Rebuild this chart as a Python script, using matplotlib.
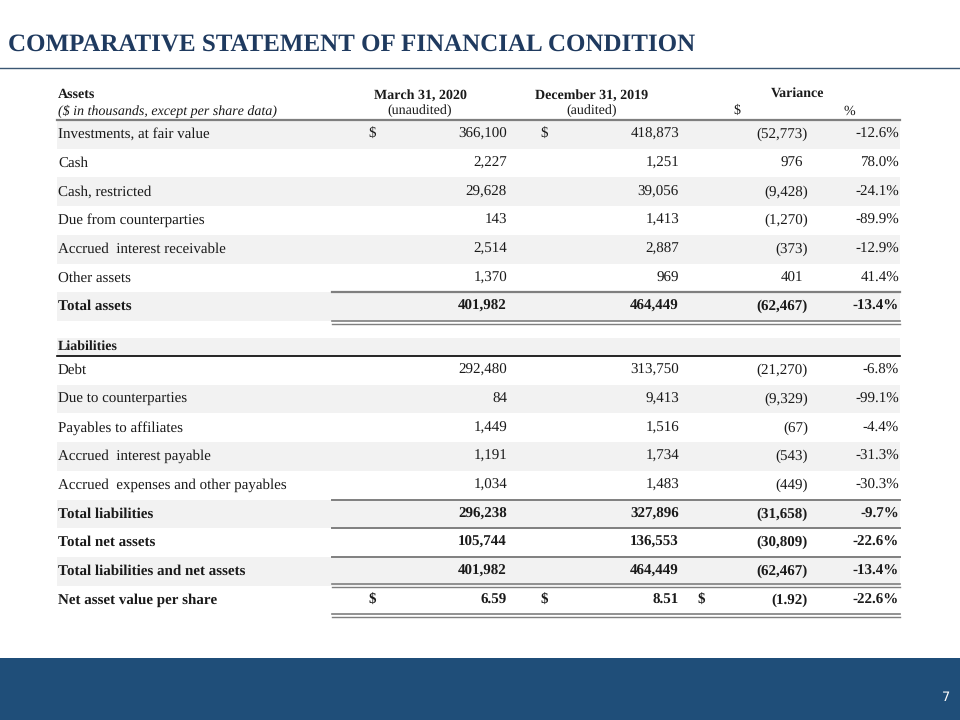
import matplotlib
matplotlib.use("Agg")
import matplotlib.pyplot as plt
from matplotlib.patches import Rectangle

plt.rcParams["text.hinting"] = "no_hinting"
plt.rcParams["text.hinting_factor"] = 1

# ---------------- data ----------------
title = "COMPARATIVE STATEMENT OF FINANCIAL CONDITION"
col_headers = ["March 31, 2020", "December 31, 2019", "Variance"]
col_subheaders = ["(unaudited)", "(audited)", "$", "%"]
units_note = "($ in thousands, except per share data)"

asset_labels = ["Investments, at fair value", "Cash", "Cash, restricted",
                "Due from counterparties", "Accrued  interest receivable",
                "Other assets", "Total assets"]
asset_mar = [366100, 2227, 29628, 143, 2514, 1370, 401982]
asset_dec = [418873, 1251, 39056, 1413, 2887, 969, 464449]
asset_var = [-52773, 976, -9428, -1270, -373, 401, -62467]
asset_pct = [-12.6, 78.0, -24.1, -89.9, -12.9, 41.4, -13.4]

liab_labels = ["Debt", "Due to counterparties", "Payables to affiliates",
               "Accrued  interest payable", "Accrued  expenses and other payables",
               "Total liabilities", "Total net assets",
               "Total liabilities and net assets", "Net asset value per share"]
liab_mar = [292480, 84, 1449, 1191, 1034, 296238, 105744, 401982, 6.59]
liab_dec = [313750, 9413, 1516, 1734, 1483, 327896, 136553, 464449, 8.51]
liab_var = [-21270, -9329, -67, -543, -449, -31658, -30809, -62467, -1.92]
liab_pct = [-6.8, -99.1, -4.4, -31.3, -30.3, -9.7, -22.6, -13.4, -22.6]
page_number = "7"

# ---------------- style ----------------
W, H = 960, 720
NAVY = "#1F3A5F"
BAND = "#1F4E79"
GRAY_BG = "#F2F2F2"
LINE_GRAY = "#7F7F7F"
TXT = "#1A1A1A"
SERIF = ["Liberation Serif", "DejaVu Serif"]
FS = 10.6
FS_H = 10.4

fig = plt.figure(figsize=(W / 100, H / 100), dpi=100)
ax = fig.add_axes([0, 0, 1, 1])
ax.set_xlim(0, W)
ax.set_ylim(H, 0)
ax.axis("off")

# title
ax.text(8, 44.5, title, fontsize=18.1, fontweight="bold", family=SERIF,
        color=NAVY, va="center", ha="left")
ax.plot([0, W], [68, 68], color="#3B5773", lw=1.0)

# bottom band
ax.add_patch(Rectangle((0, 658), W, 62, color=BAND, lw=0))
ax.text(946, 697, page_number, fontsize=9, color="white", ha="center",
        va="center", family=["DejaVu Sans"])

# table geometry
X0, X1 = 57, 900
XS = 332
X_D1, X_N1 = 368, 507
X_D2, X_N2 = 540, 679
X_D3, X_N3 = 697, 808
X_P = 899
ROW = 28.7


def fmt_num(v):
    if isinstance(v, float) and abs(v) < 100:
        s = f"{abs(v):.2f}"
    else:
        s = f"{abs(v):,.0f}"
    return s


def draw_row(y_top, label, m, d, v, p, bg, bold=False, dollars=(False, False, False)):
    if bg:
        ax.add_patch(Rectangle((X0, y_top), X1 - X0, ROW, color=GRAY_BG, lw=0, zorder=0))
    yc = y_top + ROW / 2
    fw = "bold" if bold else "normal"
    kw = dict(fontsize=FS, family=SERIF, color=TXT, va="center", fontweight=fw)
    ax.text(X0 + 1, yc, label, ha="left", **kw)
    ax.text(X_N1, yc, fmt_num(m), ha="right", **kw)
    ax.text(X_N2, yc, fmt_num(d), ha="right", **kw)
    if v < 0:
        ax.text(X_N3, yc, "(" + fmt_num(v) + ")", ha="right", **kw)
    else:
        ax.text(X_N3 - 5, yc, fmt_num(v), ha="right", **kw)
    ax.text(X_P, yc, f"{p:.1f}%", ha="right", **kw)
    for flag, xd in zip(dollars, (X_D1, X_D2, X_D3)):
        if flag:
            ax.text(xd, yc, "$", ha="left", **kw)


# headers
hk = dict(fontsize=FS_H, family=SERIF, color=TXT, va="center")
ax.text(X0 + 1, 94, "Assets", ha="left", fontweight="bold", **hk)
ax.text(X0 + 1, 111, units_note, ha="left", style="italic", **hk)
ax.text(420, 95, col_headers[0], ha="center", fontweight="bold", **hk)
ax.text(592, 95, col_headers[1], ha="center", fontweight="bold", **hk)
ax.text(798, 93, col_headers[2], ha="center", fontweight="bold", **hk)
ax.text(420, 111, col_subheaders[0], ha="center", **hk)
ax.text(592, 111, col_subheaders[1], ha="center", **hk)
ax.text(737, 111, col_subheaders[2], ha="center", **hk)
ax.text(849, 111, col_subheaders[3], ha="center", **hk)
ax.plot([X0, X1], [120, 120], color=LINE_GRAY, lw=1.6)

# asset rows
y0 = 120
for i, lab in enumerate(asset_labels):
    is_total = (i == len(asset_labels) - 1)
    draw_row(y0 + i * ROW, lab, asset_mar[i], asset_dec[i], asset_var[i],
             asset_pct[i], bg=(i % 2 == 0), bold=is_total,
             dollars=(i == 0, i == 0, False))
yt = y0 + 6 * ROW
ax.plot([XS, X1], [yt, yt], color=LINE_GRAY, lw=1.6)
ax.plot([XS, X1], [yt + ROW, yt + ROW], color=LINE_GRAY, lw=1.2)
ax.plot([XS, X1], [yt + ROW + 2.6, yt + ROW + 2.6], color=LINE_GRAY, lw=1.0)

# liabilities header
ax.add_patch(Rectangle((X0, 338), X1 - X0, 18, color=GRAY_BG, lw=0, zorder=0))
ax.text(X0 + 1, 346.5, "Liabilities", ha="left", fontweight="bold", **hk)
ax.plot([X0, X1], [356, 356], color="black", lw=1.2)

# liability rows
y1 = 356
n = len(liab_labels)
for j, lab in enumerate(liab_labels):
    is_total = j >= 5
    last = j == n - 1
    draw_row(y1 + j * ROW, lab, liab_mar[j], liab_dec[j], liab_var[j],
             liab_pct[j], bg=(j % 2 == 1), bold=is_total,
             dollars=(last, last, last))
for j in (5, 6, 7):
    yy = y1 + j * ROW
    ax.plot([XS, X1], [yy, yy], color=LINE_GRAY, lw=1.4)
yy = y1 + 8 * ROW
ax.plot([XS, X1], [yy - 1.2, yy - 1.2], color=LINE_GRAY, lw=1.2)
ax.plot([XS, X1], [yy + 1.2, yy + 1.2], color=LINE_GRAY, lw=1.0)
yy = y1 + 9 * ROW
ax.plot([XS, X1], [yy, yy], color=LINE_GRAY, lw=1.2)
ax.plot([XS, X1], [yy + 2.6, yy + 2.6], color=LINE_GRAY, lw=1.0)

fig.savefig("out.png", dpi=100)
